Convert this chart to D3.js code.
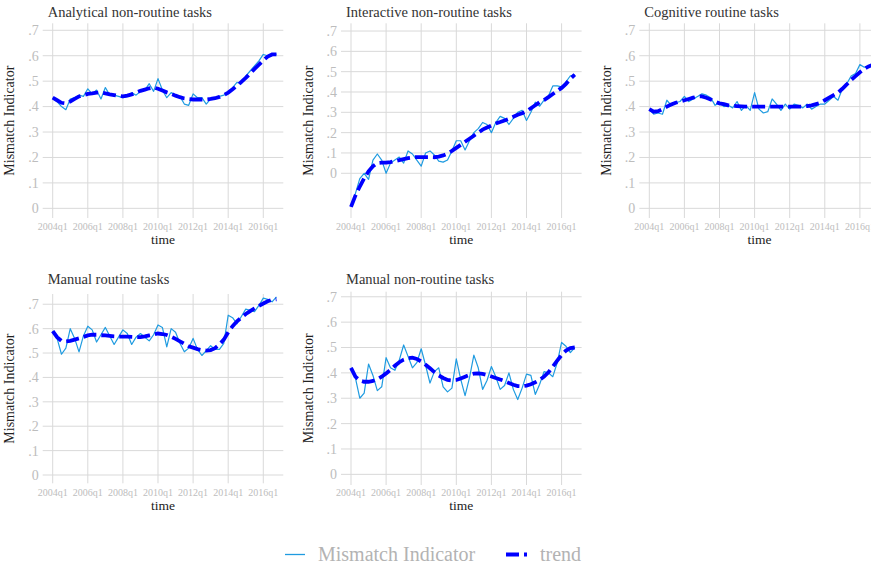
<!DOCTYPE html>
<html>
<head>
<meta charset="utf-8">
<script src="https://cdnjs.cloudflare.com/ajax/libs/d3/7.8.5/d3.min.js"></script>
<style>
  body { margin: 0; background: #fff; }
  svg text { font-family: "Liberation Serif", "DejaVu Serif", serif; }
</style>
</head>
<body>
<svg id="chart" width="871" height="569"></svg>
<script>
/*global d3*/

// time axis: 2004q1 .. 2016q4
var years = [2004, 2005, 2006, 2007, 2008, 2009, 2010, 2011, 2012, 2013, 2014, 2015, 2016];
var quarters = [];
years.forEach(function(y){
  [1, 2, 3, 4].forEach(function(q){ quarters.push(y + "q" + q); });
});
var xTickLabels = ["2004q1", "2006q1", "2008q1", "2010q1", "2012q1", "2014q1", "2016q1"];
var yTickValues = [0, .1, .2, .3, .4, .5, .6, .7];
var yTickLabels = ["0", ".1", ".2", ".3", ".4", ".5", ".6", ".7"];

var titles = ["Analytical non-routine tasks", "Interactive non-routine tasks", "Cognitive routine tasks",
              "Manual routine tasks", "Manual non-routine tasks"];

var analyticalRaw = [.435,.42,.40,.388,.43,.435,.445,.44,.47,.45,.465,.43,.475,.445,.445,.44,
  .435,.44,.455,.445,.46,.465,.49,.46,.51,.465,.435,.455,.445,.44,.41,.405,
  .45,.435,.435,.41,.43,.43,.44,.445,.455,.475,.495,.49,.52,.54,.56,.58,
  .605,.60,.605,.605];
var analyticalTrend = [.435,.425,.415,.413,.42,.43,.44,.445,.45,.452,.455,.455,.452,.448,.445,.442,
  .44,.443,.448,.455,.462,.467,.472,.475,.47,.463,.456,.45,.443,.437,.432,.43,
  .428,.428,.428,.428,.43,.433,.438,.445,.455,.468,.482,.497,.513,.53,.548,.565,
  .582,.597,.605,.605];

var interactiveRaw = [-.165,-.10,-.026,0,-.03,.065,.095,.065,0,.05,.065,.08,.05,.11,.095,.065,
  .035,.10,.11,.09,.06,.055,.065,.11,.16,.16,.115,.16,.20,.22,.25,.24,
  .20,.25,.28,.27,.24,.27,.30,.31,.26,.30,.35,.33,.36,.38,.43,.43,
  .425,.45,.48,.485];
var interactiveTrend = [-.165,-.11,-.065,-.025,.01,.035,.05,.052,.052,.055,.06,.065,.07,.075,.078,.08,
  .08,.08,.08,.079,.082,.088,.097,.11,.125,.14,.155,.17,.185,.2,.215,.225,
  .235,.245,.252,.26,.268,.278,.288,.295,.305,.32,.335,.35,.36,.375,.39,.405,
  .42,.44,.465,.485];

var cognitiveRaw = [.39,.37,.375,.37,.425,.405,.415,.42,.44,.42,.43,.44,.45,.445,.435,.405,
  .415,.40,.405,.395,.42,.385,.405,.385,.455,.39,.375,.38,.43,.41,.385,.41,
  .39,.41,.405,.395,.41,.39,.40,.41,.41,.425,.44,.425,.47,.49,.52,.53,
  .565,.555,.555,.565];
var cognitiveTrend = [.39,.38,.382,.39,.40,.408,.415,.42,.425,.43,.435,.44,.44,.435,.428,.42,
  .413,.41,.405,.403,.402,.401,.40,.40,.40,.40,.40,.40,.40,.40,.40,.40,
  .40,.40,.40,.40,.402,.405,.41,.415,.425,.435,.445,.455,.47,.487,.505,.52,
  .535,.548,.558,.565];

var manualRoutineRaw = [.59,.56,.495,.52,.60,.56,.505,.57,.61,.595,.545,.575,.605,.57,.535,.565,
  .595,.58,.535,.565,.58,.565,.55,.575,.615,.605,.525,.60,.585,.54,.505,.52,
  .56,.515,.49,.51,.53,.515,.515,.54,.655,.645,.62,.65,.68,.675,.67,.695,
  .725,.72,.71,.73];
var manualRoutineTrend = [.59,.565,.55,.548,.55,.555,.56,.566,.572,.575,.575,.573,.572,.57,.568,.567,
  .567,.567,.566,.565,.565,.568,.572,.576,.58,.578,.574,.567,.558,.548,.538,.528,
  .522,.516,.512,.51,.512,.52,.535,.555,.585,.61,.63,.645,.66,.672,.683,.693,
  .703,.712,.718,.72];

var manualNonRoutineRaw = [.42,.38,.30,.32,.435,.39,.33,.345,.46,.42,.41,.45,.51,.465,.42,.44,
  .495,.43,.36,.405,.42,.345,.325,.34,.455,.375,.31,.38,.47,.42,.335,.37,
  .425,.385,.335,.35,.40,.335,.295,.34,.395,.39,.315,.355,.405,.40,.385,.44,
  .52,.505,.48,.50];
var manualNonRoutineTrend = [.42,.385,.37,.365,.365,.368,.375,.385,.398,.412,.428,.442,.452,.458,.46,.455,
  .445,.432,.418,.403,.39,.38,.372,.37,.372,.378,.385,.392,.397,.398,.396,.392,
  .386,.38,.374,.368,.36,.353,.348,.347,.35,.355,.363,.372,.385,.402,.425,.448,
  .47,.488,.498,.50];

var rawSeries = [analyticalRaw, interactiveRaw, cognitiveRaw, manualRoutineRaw, manualNonRoutineRaw];
var trendSeries = [analyticalTrend, interactiveTrend, cognitiveTrend, manualRoutineTrend, manualNonRoutineTrend];

// panel plot regions (pixels) and y ranges
var panels = [
  {left: 42.7, top: 23.3, w: 240.6, h: 194.7, ylo: -0.038, yhi: 0.7275, row: 0},
  {left: 341,  top: 23.3, w: 240.6, h: 194.7, ylo: -0.22,  yhi: 0.738,  row: 0},
  {left: 639.3,top: 23.3, w: 240.6, h: 194.7, ylo: -0.038, yhi: 0.7275, row: 0},
  {left: 42.7, top: 294,  w: 240.6, h: 189.3, ylo: -0.034, yhi: 0.742,  row: 1},
  {left: 341,  top: 291.7,w: 240.6, h: 193.3, ylo: -0.042, yhi: 0.72,   row: 1}
];
var titleBase = [16.7, 284];
var tickBase = [229.8, 495.6];
var timeBase = [243.5, 510];

var rawColor = "#1f9be0",
    trendColor = "#0000ff",
    gridColor = "#d9d9d9",
    tickColor = "#bdbdbd";

var svg = d3.select("#chart");

panels.forEach(function(p, k){
  var g = svg.append("g");
  var x = d3.scaleLinear().domain([-2.28, 52.56]).range([p.left, p.left + p.w]);
  var y = d3.scaleLinear().domain([p.ylo, p.yhi]).range([p.top + p.h, p.top]);
  var bottom = p.top + p.h;

  // horizontal grid + y labels
  g.selectAll(".hgrid").data(yTickValues).enter().append("line")
    .attr("x1", p.left).attr("x2", p.left + p.w)
    .attr("y1", function(d){ return y(d); }).attr("y2", function(d){ return y(d); })
    .attr("stroke", gridColor).attr("stroke-width", 1);
  g.selectAll(".ylab").data(yTickValues).enter().append("text")
    .attr("x", p.left - 4)
    .attr("y", function(d){ return y(d); })
    .attr("dy", "0.35em")
    .attr("text-anchor", "end")
    .style("font-size", "14px")
    .attr("fill", tickColor)
    .text(function(d, i){ return yTickLabels[i]; });

  // vertical grid + x labels
  g.selectAll(".vgrid").data(xTickLabels).enter().append("line")
    .attr("x1", function(d){ return x(quarters.indexOf(d)); })
    .attr("x2", function(d){ return x(quarters.indexOf(d)); })
    .attr("y1", p.top).attr("y2", bottom)
    .attr("stroke", gridColor).attr("stroke-width", 1);
  g.selectAll(".xlab").data(xTickLabels).enter().append("text")
    .attr("x", function(d){ return x(quarters.indexOf(d)); })
    .attr("y", tickBase[p.row])
    .attr("text-anchor", "middle")
    .style("font-size", "10px")
    .attr("fill", tickColor)
    .text(function(d){ return d; });

  var line = d3.line()
    .x(function(d, i){ return x(i); })
    .y(function(d){ return y(d); });

  g.append("path").datum(rawSeries[k])
    .attr("d", line)
    .attr("fill", "none")
    .attr("stroke", rawColor)
    .attr("stroke-width", 1.2)
    .attr("stroke-linejoin", "round");

  g.append("path").datum(trendSeries[k])
    .attr("d", line)
    .attr("fill", "none")
    .attr("stroke", trendColor)
    .attr("stroke-width", 3.8)
    .attr("stroke-dasharray", "13,5");

  // titles
  g.append("text")
    .attr("x", p.left + 5).attr("y", titleBase[p.row])
    .style("font-size", "14.5px")
    .attr("fill", "#333")
    .text(titles[k]);

  g.append("text")
    .attr("x", p.left + p.w / 2).attr("y", timeBase[p.row])
    .attr("text-anchor", "middle")
    .style("font-size", "13.5px")
    .attr("fill", "#222")
    .text("time");

  g.append("text")
    .attr("transform", "translate(" + (p.left - 28.5) + "," + (p.top + p.h / 2) + ") rotate(-90)")
    .attr("text-anchor", "middle")
    .style("font-size", "14px")
    .attr("fill", "#222")
    .text("Mismatch Indicator");
});

// legend
var legend = svg.append("g");
legend.append("line")
  .attr("x1", 285).attr("x2", 305).attr("y1", 554.5).attr("y2", 554.5)
  .attr("stroke", rawColor).attr("stroke-width", 1.3);
legend.append("text")
  .attr("x", 318).attr("y", 561)
  .style("font-size", "20px")
  .attr("fill", "#b3b3b3")
  .text("Mismatch Indicator");
legend.append("line")
  .attr("x1", 506).attr("x2", 527).attr("y1", 554.5).attr("y2", 554.5)
  .attr("stroke", trendColor).attr("stroke-width", 4)
  .attr("stroke-dasharray", "13,5");
legend.append("text")
  .attr("x", 540).attr("y", 561)
  .style("font-size", "20px")
  .attr("fill", "#b3b3b3")
  .text("trend");
</script>
</body>
</html>
